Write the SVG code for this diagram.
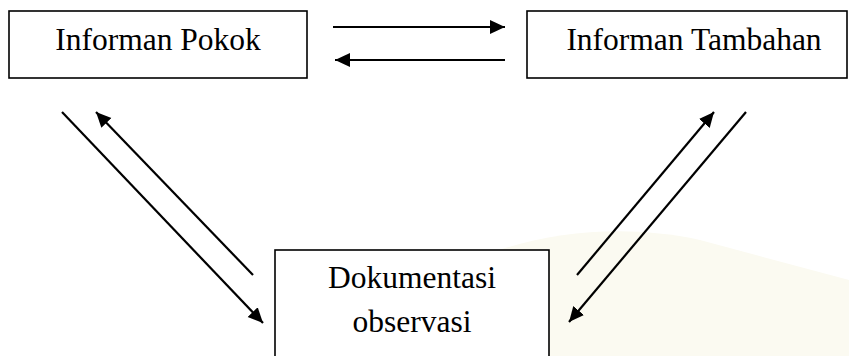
<svg xmlns="http://www.w3.org/2000/svg" width="849" height="356" viewBox="0 0 849 356">
<style>
.box{fill:#fff;stroke:#000;stroke-width:1.6}
.lbl{font-family:"Liberation Serif","Times New Roman",serif;font-size:31.5px;fill:#000;text-anchor:middle}
.conn line{stroke:#000;stroke-width:2.2;marker-end:url(#ah)}
</style>
<defs>
<marker id="ah" markerUnits="userSpaceOnUse" markerWidth="16" markerHeight="16" viewBox="0 0 16 16" refX="15" refY="8" orient="auto">
<path d="M0,1 L15,8 L0,15 Z" fill="#000"/>
</marker>
</defs>
<rect x="0" y="0" width="849" height="356" fill="#fff"/>
<g id="watermark" fill="#fbfaf1" stroke="none">
<path d="M330,356 C420,260 560,210 700,240 L849,280 L849,356 Z"/>
</g>
<g id="node-pokok">
<rect class="box" x="9" y="11" width="298" height="67"/>
<text class="lbl" x="158" y="50">Informan Pokok</text>
</g>
<g id="node-tambahan">
<rect class="box" x="527" y="11" width="320" height="67"/>
<text class="lbl" x="694" y="50">Informan Tambahan</text>
</g>
<g id="node-dokumentasi">
<rect class="box" x="275" y="250" width="274" height="110"/>
<text class="lbl" x="412" y="288">Dokumentasi</text>
<text class="lbl" x="412" y="332">observasi</text>
</g>
<g id="connectors" class="conn">
<line x1="333" y1="27" x2="505" y2="27"/>
<line x1="505" y1="60" x2="335" y2="60"/>
<line x1="62" y1="112" x2="263" y2="323"/>
<line x1="253" y1="275" x2="96" y2="112"/>
<line x1="577" y1="275" x2="714" y2="112"/>
<line x1="746" y1="112" x2="569" y2="322"/>
</g>
</svg>
